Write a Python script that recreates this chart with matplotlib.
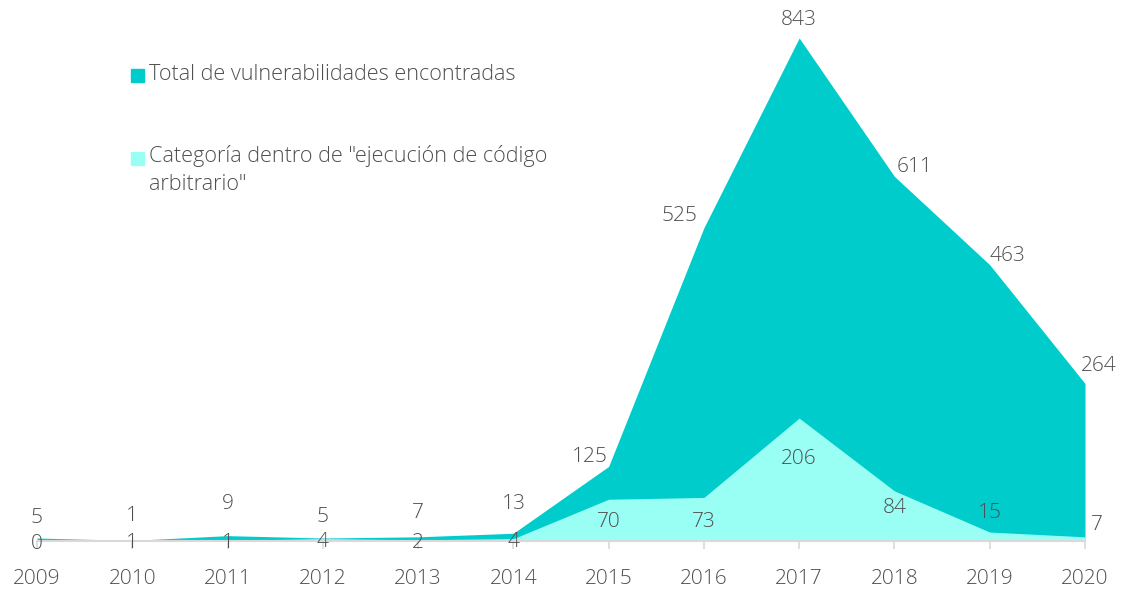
import matplotlib
matplotlib.use('Agg')
import matplotlib.pyplot as plt
from matplotlib.patches import Rectangle
import numpy as np

years = ['2009', '2010', '2011', '2012', '2013', '2014',
         '2015', '2016', '2017', '2018', '2019', '2020']
total = [5, 1, 9, 5, 7, 13, 125, 525, 843, 611, 463, 264]
arbitrary = [0, 1, 1, 4, 2, 4, 70, 73, 206, 84, 15, 7]

label_total = 'Total de vulnerabilidades encontradas'
label_arbitrary = 'Categoría dentro de "ejecución de código\narbitrario"'

# label offsets in pixels (dx, dy), dy positive = up
total_offsets = [(0, 20), (0, 24), (0, 32), (0, 21), (0, 24), (0, 29),
                 (-19, 9), (-24, 12), (0, 18), (20, 9), (18, 9), (14, 17)]
arb_offsets = [(0, -3), (0, -3), (0, -3), (0, -3), (0, -3), (0, -3),
               (0, -23), (0, -25), (0, -41), (0, -17), (0, 19), (12, 12)]

dark = '#00CCCC'
light = '#99FFF5'
grey = '#4f4f4f'

plt.rcParams['font.family'] = ['Open Sans', 'DejaVu Sans']

W, H = 1127, 589
fig = plt.figure(figsize=(W / 100, H / 100), dpi=100)
ax = fig.add_axes([37 / W, 1 - 541 / H, (1085 - 37) / W, (541 - 38) / H])

x = np.arange(len(years))
ax.fill_between(x, 0, total, color=dark, linewidth=0)
ax.fill_between(x, 0, arbitrary, color=light, linewidth=0)

ax.set_xlim(0, len(years) - 1)
ax.set_ylim(0, max(total))
ax.set_xticks(x)
ax.set_xticklabels(years, fontsize=15, color=grey, fontweight='light')
ax.set_yticks([])
for s in ['top', 'right', 'left']:
    ax.spines[s].set_visible(False)
ax.spines['bottom'].set_color('#d9d9d9')
ax.spines['bottom'].set_linewidth(1.5)
ax.tick_params(axis='x', length=6, width=1.2, color='#d9d9d9', pad=14)

for i, v in enumerate(total):
    dx, dy = total_offsets[i]
    ax.annotate(str(v), (x[i], v), xytext=(dx * 0.72, dy * 0.72),
                textcoords='offset points', ha='center', va='center',
                fontsize=15, color=grey, fontweight='light', annotation_clip=False)
for i, v in enumerate(arbitrary):
    dx, dy = arb_offsets[i]
    ax.annotate(str(v), (x[i], v), xytext=(dx * 0.72, dy * 0.72),
                textcoords='offset points', ha='center', va='center',
                fontsize=15, color=grey, fontweight='light', annotation_clip=False)

# legend
sq = 13
fig.patches.append(Rectangle((131 / W, 1 - 82 / H), sq / W, sq / H,
                             color=dark, transform=fig.transFigure))
fig.text(149 / W, 1 - 75 / H, label_total, fontsize=15.6, color=grey,
         va='center', ha='left', fontweight='light')
fig.patches.append(Rectangle((131 / W, 1 - 165 / H), sq / W, sq / H,
                             color=light, transform=fig.transFigure))
fig.text(149 / W, 1 - 145 / H, label_arbitrary, fontsize=15.6, color=grey,
         va='top', ha='left', fontweight='light', linespacing=1.45)

plt.savefig('out.png', dpi=100)
plt.close()
